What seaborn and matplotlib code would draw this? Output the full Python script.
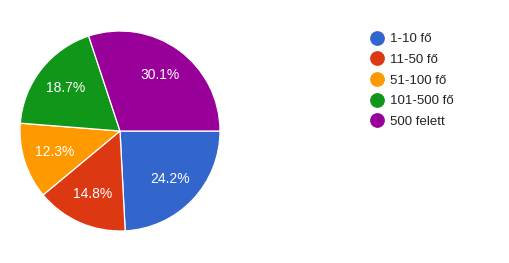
import matplotlib
matplotlib.use("Agg")
import matplotlib.pyplot as plt
import seaborn as sns
from matplotlib.lines import Line2D

sns.set_theme(style="white")
plt.rcParams['font.family'] = ['Liberation Sans', 'DejaVu Sans']

categories = ["1-10 fő", "11-50 fő", "51-100 fő", "101-500 fő", "500 felett"]
values = [24.2, 14.8, 12.3, 18.7, 30.1]
colors = ["#3366cc", "#dc3912", "#ff9900", "#109618", "#990099"]

W, H = 510, 263
fig = plt.figure(figsize=(W / 100, H / 100), dpi=100)
fig.patch.set_facecolor("white")

# pie centre (120,131), radius 100 px
cx, cy, r = 120, 131, 100
ax = fig.add_axes([(cx - r) / W, (H - cy - r) / H, 2 * r / W, 2 * r / H])
wedges, texts, autotexts = ax.pie(
    values, colors=colors, startangle=0, counterclock=False,
    autopct="%.1f%%", pctdistance=0.69, radius=1,
    wedgeprops=dict(edgecolor="white", linewidth=0.9),
    textprops=dict(color="white", fontsize=10),
)
ax.set_xlim(-1, 1)
ax.set_ylim(-1, 1)
ax.set_aspect("equal")
ax.axis("off")

handles = [Line2D([0], [0], marker="o", linestyle="none", markersize=9.6,
                  markerfacecolor=c, markeredgecolor=c) for c in colors]
fs = 9.5
fig.legend(handles, categories, loc="upper left",
           bbox_to_anchor=(370 / W, 1 - 33 / H), frameon=False,
           fontsize=fs, handlelength=1.0, handletextpad=0.5,
           labelspacing=0.64, borderpad=0, borderaxespad=0,
           labelcolor="#222222")

fig.savefig("out.png", dpi=100)
